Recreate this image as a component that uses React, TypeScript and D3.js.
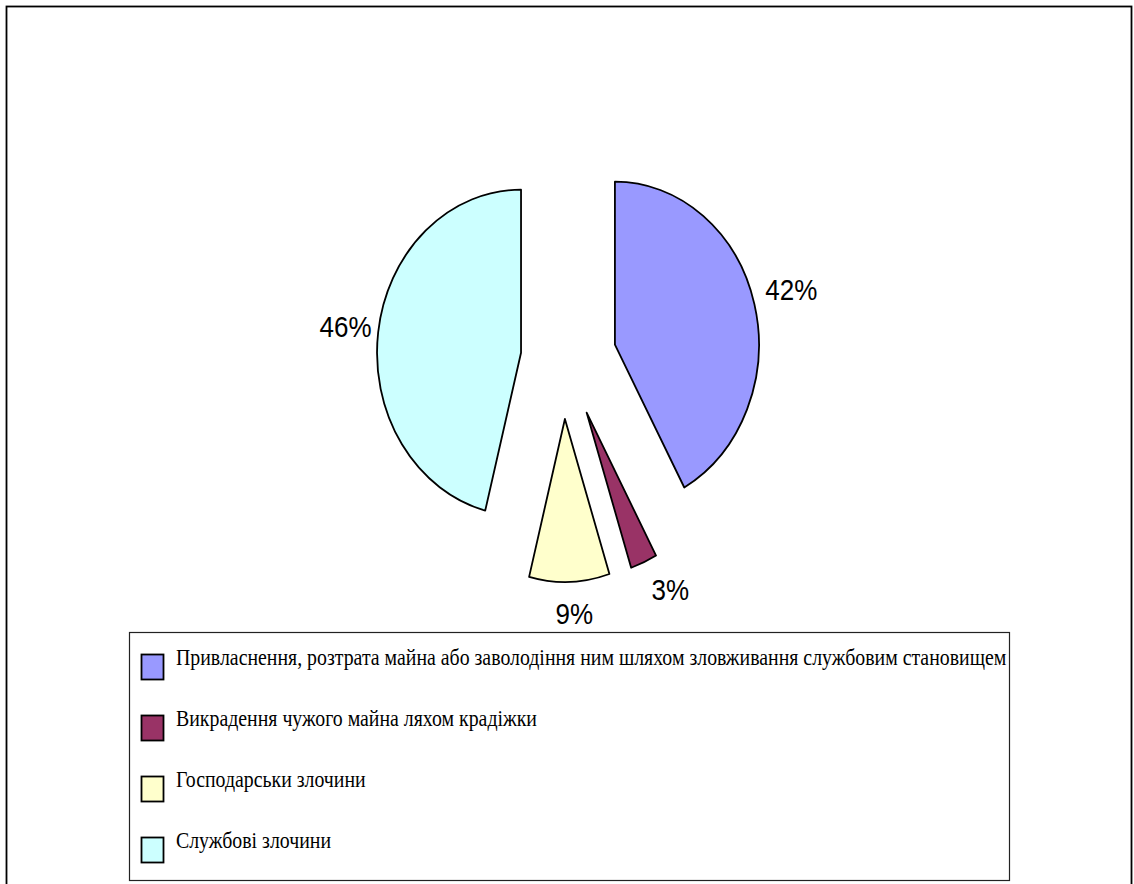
import React, { useEffect, useRef } from "react";
import * as d3 from "d3";

const categories: string[] = [
  "Привласнення, розтрата майна або заволодіння ним шляхом зловживання службовим становищем",
  "Викрадення чужого майна ляхом крадіжки",
  "Господарськи злочини",
  "Службові злочини",
];
const values: number[] = [42, 3, 9, 46];
const labels: string[] = ["42%", "3%", "9%", "46%"];
const colors: string[] = ["#9999FF", "#993366", "#FFFFCC", "#CCFFFF"];
// per-slice explosion distance (px) along the slice's mid-angle
const explode: number[] = [53.6, 59.6, 61, 42.3];
// label nudges (px)
const labelNudge: [number, number][] = [
  [9, -6],
  [15, -2],
  [4, -1],
  [-4, -1],
];

const W = 1134;
const H = 884;

export default function App() {
  const ref = useRef<SVGSVGElement | null>(null);

  useEffect(() => {
    const svg = d3.select(ref.current);
    svg.selectAll("*").remove();

    // outer frame
    svg
      .append("rect")
      .attr("x", 6.5)
      .attr("y", 6.5)
      .attr("width", 1125)
      .attr("height", 950)
      .attr("fill", "none")
      .attr("stroke", "#000")
      .attr("stroke-width", 1.8);

    const cx = 563;
    const cy = 358;
    const ry = 163;
    const rx = 144;
    const kx = rx / ry;

    const pie = d3
      .pie<number>()
      .sort(null)
      .value((d) => d)
      .startAngle(0)
      .endAngle(2 * Math.PI);
    const arcs = pie(values);
    const arc = d3.arc<d3.PieArcDatum<number>>().innerRadius(0).outerRadius(ry);

    const gPie = svg.append("g");
    arcs.forEach((a, i) => {
      const m = (a.startAngle + a.endAngle) / 2;
      const vx = cx + explode[i] * Math.sin(m);
      const vy = cy - explode[i] * Math.cos(m);
      gPie
        .append("g")
        .attr("transform", `translate(${vx},${vy}) scale(${kx},1)`)
        .append("path")
        .attr("d", arc(a) as string)
        .attr("fill", colors[i])
        .attr("stroke", "#000")
        .attr("stroke-width", 1.8)
        .attr("stroke-linejoin", "round")
        .attr("vector-effect", "non-scaling-stroke");

      const lr = 1.2;
      const lx = vx + lr * rx * Math.sin(m) + labelNudge[i][0];
      const ly = vy - lr * ry * Math.cos(m) + labelNudge[i][1];
      svg
        .append("g")
        .attr("transform", `translate(${lx},${ly}) scale(1,1.1)`)
        .append("text")
        .attr("x", 0)
        .attr("y", 9.3)
        .attr("text-anchor", "middle")
        .attr("font-family", "'Liberation Sans', Arial, sans-serif")
        .attr("font-size", 26)
        .attr("fill", "#000")
        .text(labels[i]);
    });

    // legend
    const lg = svg.append("g");
    lg.append("rect")
      .attr("x", 129.5)
      .attr("y", 632.5)
      .attr("width", 880)
      .attr("height", 248)
      .attr("fill", "#fff")
      .attr("stroke", "#222")
      .attr("stroke-width", 1.2);

    const rowY = d3
      .scaleLinear()
      .domain([0, 1])
      .range([654, 715]);

    const texts: d3.Selection<SVGTextElement, unknown, null, undefined>[] = [];
    categories.forEach((c, i) => {
      const y0 = rowY(i);
      lg.append("rect")
        .attr("x", 141.5)
        .attr("y", y0 + 0.5)
        .attr("width", 22)
        .attr("height", 25)
        .attr("fill", colors[i])
        .attr("stroke", "#000")
        .attr("stroke-width", 1.8);
      const t = lg
        .append("g")
        .append("text")
        .attr("x", 0)
        .attr("y", 0)
        .attr("font-family", "'Liberation Serif', 'Times New Roman', serif")
        .attr("font-size", 20)
        .attr("fill", "#000")
        .text(c);
      texts.push(t);
    });

    const w1 = (texts[0].node() as SVGTextElement).getComputedTextLength();
    const sx = w1 > 0 ? 831 / w1 : 1;
    texts.forEach((t, i) => {
      const g = (t.node() as SVGTextElement).parentNode as SVGGElement;
      d3.select(g).attr(
        "transform",
        `translate(176,${rowY(i) + 11}) scale(${sx},1.13)`
      );
    });
  }, []);

  return (
    <svg
      ref={ref}
      width={W}
      height={H}
      style={{ position: "absolute", left: 0, top: 0, display: "block", background: "#fff" }}
    />
  );
}
